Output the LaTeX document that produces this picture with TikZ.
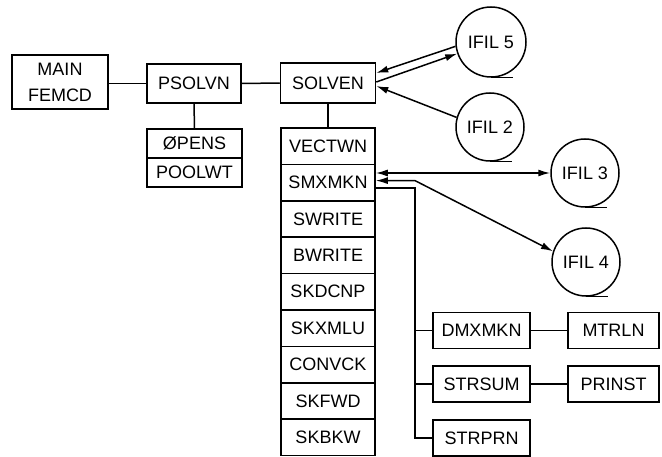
\documentclass[tikz,border=0pt]{standalone}
\usepackage{fontspec}
\setmainfont{Liberation Sans}
\usetikzlibrary{arrows.meta,calc}
\begin{document}
\begin{tikzpicture}[x=1pt,y=-1pt,
  every node/.style={font=\fontsize{18}{26}\selectfont},
  box/.style={draw,line width=1.5pt,rectangle,inner sep=0pt,align=center},
  colbox/.style={box,minimum width=94pt,minimum height=36.4pt},
  file/.style={draw,line width=1.5pt,circle,minimum size=68pt,inner sep=0pt},
  conn/.style={line width=1.5pt},
  arr/.style={line width=1.5pt,-{Latex[length=12pt,width=7pt]}},
  darr/.style={line width=1.5pt,{Latex[length=12pt,width=7pt]}-{Latex[length=12pt,width=7pt]}}]
\useasboundingbox (0,0) rectangle (662,457);
% left part
\node[box,minimum width=96pt,minimum height=54pt] (main) at (60,82) {MAIN\\FEMCD};
\node[box,minimum width=94pt,minimum height=39pt] (psolvn) at (194,83.5) {PSOLVN};
\node[box,minimum width=95pt,minimum height=29pt] (opens) at (194.5,143.5) {ØPENS};
\node[box,minimum width=95pt,minimum height=29pt] (poolwt) at (194.5,172.5) {POOLWT};
\node[box,minimum width=95pt,minimum height=40pt] (solven) at (328,83) {SOLVEN};
% column
\node[colbox] (vectwn) at (328,146.2) {VECTWN};
\node[colbox] (smxmkn) at (328,182.6) {SMXMKN};
\node[colbox] (swrite) at (328,219.0) {SWRITE};
\node[colbox] (bwrite) at (328,255.4) {BWRITE};
\node[colbox] (skdcnp) at (328,291.8) {SKDCNP};
\node[colbox] (skxmlu) at (328,328.2) {SKXMLU};
\node[colbox] (convck) at (328,364.6) {CONVCK};
\node[colbox] (skfwd) at (328,401.0) {SKFWD};
\node[colbox] (skbkw) at (328,437.4) {SKBKW};
% files
\node[file,minimum size=70pt] (ifil5) at (491,42) {IFIL 5};
\node[file] (ifil2) at (490,127) {IFIL 2};
\node[file] (ifil3) at (585,173) {IFIL 3};
\node[file] (ifil4) at (586,262) {IFIL 4};
\foreach \f in {ifil5,ifil2,ifil3,ifil4}{\draw[conn] (\f.south) -- ++(22,0);}
% right boxes
\node[box,minimum width=97pt,minimum height=36pt] (dmxmkn) at (481.5,330.5) {DMXMKN};
\node[box,minimum width=97pt,minimum height=36pt] (strsum) at (481.5,384) {STRSUM};
\node[box,minimum width=97pt,minimum height=36pt] (strprn) at (481.5,438) {STRPRN};
\node[box,minimum width=91pt,minimum height=36pt] (mtrln) at (613.5,330.5) {MTRLN};
\node[box,minimum width=91pt,minimum height=36pt] (prinst) at (613.5,384) {PRINST};
% connectors
\draw[conn] (main.east |- psolvn.west) -- (psolvn.west);
\draw[conn] (psolvn.east) -- (solven.west);
\draw[conn] (psolvn.south) -- (opens.north);
\draw[conn] (solven.south) -- (vectwn.north);
\draw[conn] (dmxmkn.east) -- (mtrln.west);
\draw[conn] (strsum.east) -- (prinst.west);
\coordinate (trunk) at (415,188);
\draw[conn] ([yshift=-5.4pt]smxmkn.east) -- (trunk) -- (trunk |- strprn.west) -- (strprn.west);
\draw[conn] (trunk |- dmxmkn.west) -- (dmxmkn.west);
\draw[conn] (trunk |- strsum.west) -- (strsum.west);
% arrows
\draw[arr] (ifil5.187) -- ([yshift=10pt]solven.east);
\draw[arr] ([yshift=1pt]solven.east) -- (ifil5.199);
\draw[arr] (ifil2.164) -- ([yshift=-3pt]solven.east);
\draw[darr] (smxmkn.east |- ifil3.west) -- (ifil3.west);
\coordinate (bend) at (415,180.6);
\draw[darr] ([yshift=2pt]smxmkn.east) -- (bend) -- (ifil4.162);
\end{tikzpicture}
\end{document}
